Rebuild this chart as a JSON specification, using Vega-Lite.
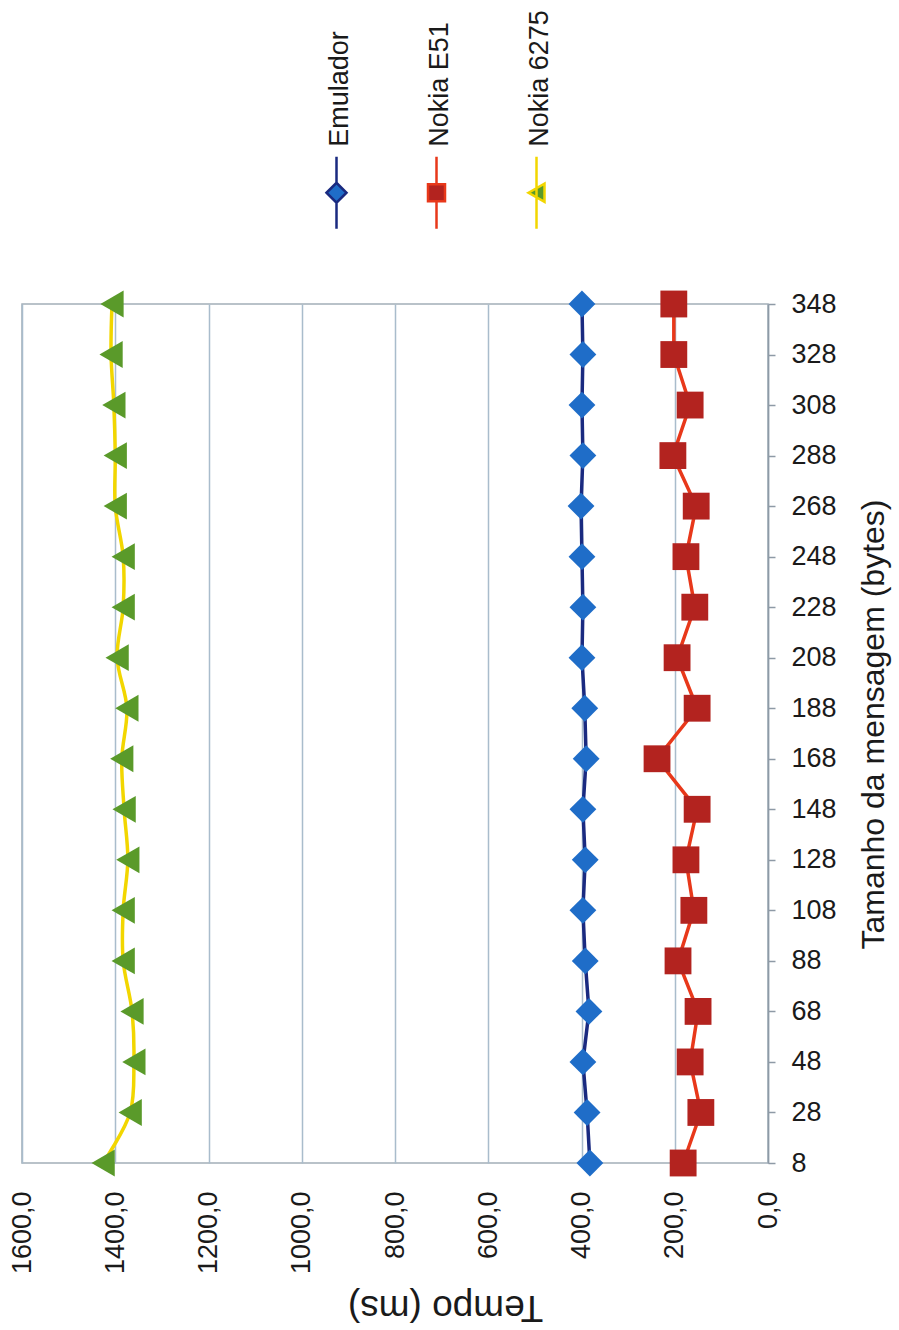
{
  "$schema": "https://vega.github.io/schema/vega-lite/v6.json",
  "width": 746,
  "height": 859,
  "autosize": {"type": "none"},
  "padding": {"left": 22, "top": 304, "right": 131, "bottom": 167},
  "background": "white",
  "config": {
    "font": "Liberation Sans",
    "view": {"stroke": "#a3aeb8", "strokeWidth": 1.5}
  },
  "data": {
    "values": [
      {"serie": "Emulador", "tamanho": 8, "tempo": 382},
      {"serie": "Emulador", "tamanho": 28, "tempo": 388},
      {"serie": "Emulador", "tamanho": 48, "tempo": 397},
      {"serie": "Emulador", "tamanho": 68, "tempo": 384},
      {"serie": "Emulador", "tamanho": 88, "tempo": 392},
      {"serie": "Emulador", "tamanho": 108, "tempo": 397},
      {"serie": "Emulador", "tamanho": 128, "tempo": 392},
      {"serie": "Emulador", "tamanho": 148, "tempo": 397},
      {"serie": "Emulador", "tamanho": 168, "tempo": 390},
      {"serie": "Emulador", "tamanho": 188, "tempo": 393},
      {"serie": "Emulador", "tamanho": 208, "tempo": 399},
      {"serie": "Emulador", "tamanho": 228, "tempo": 397},
      {"serie": "Emulador", "tamanho": 248, "tempo": 399},
      {"serie": "Emulador", "tamanho": 268, "tempo": 401},
      {"serie": "Emulador", "tamanho": 288, "tempo": 397},
      {"serie": "Emulador", "tamanho": 308, "tempo": 399},
      {"serie": "Emulador", "tamanho": 328, "tempo": 397},
      {"serie": "Emulador", "tamanho": 348, "tempo": 399},
      {"serie": "Nokia E51", "tamanho": 8, "tempo": 182},
      {"serie": "Nokia E51", "tamanho": 28, "tempo": 144},
      {"serie": "Nokia E51", "tamanho": 48, "tempo": 167},
      {"serie": "Nokia E51", "tamanho": 68, "tempo": 150},
      {"serie": "Nokia E51", "tamanho": 88, "tempo": 193},
      {"serie": "Nokia E51", "tamanho": 108, "tempo": 159},
      {"serie": "Nokia E51", "tamanho": 128, "tempo": 176},
      {"serie": "Nokia E51", "tamanho": 148, "tempo": 152},
      {"serie": "Nokia E51", "tamanho": 168, "tempo": 238},
      {"serie": "Nokia E51", "tamanho": 188, "tempo": 152},
      {"serie": "Nokia E51", "tamanho": 208, "tempo": 195},
      {"serie": "Nokia E51", "tamanho": 228, "tempo": 157},
      {"serie": "Nokia E51", "tamanho": 248, "tempo": 176},
      {"serie": "Nokia E51", "tamanho": 268, "tempo": 154},
      {"serie": "Nokia E51", "tamanho": 288, "tempo": 204},
      {"serie": "Nokia E51", "tamanho": 308, "tempo": 167},
      {"serie": "Nokia E51", "tamanho": 328, "tempo": 202},
      {"serie": "Nokia E51", "tamanho": 348, "tempo": 202},
      {"serie": "Nokia 6275", "tamanho": 8, "tempo": 1426},
      {"serie": "Nokia 6275", "tamanho": 28, "tempo": 1368},
      {"serie": "Nokia 6275", "tamanho": 48, "tempo": 1360},
      {"serie": "Nokia 6275", "tamanho": 68, "tempo": 1364},
      {"serie": "Nokia 6275", "tamanho": 88, "tempo": 1383},
      {"serie": "Nokia 6275", "tamanho": 108, "tempo": 1383},
      {"serie": "Nokia 6275", "tamanho": 128, "tempo": 1373},
      {"serie": "Nokia 6275", "tamanho": 148, "tempo": 1381},
      {"serie": "Nokia 6275", "tamanho": 168, "tempo": 1386},
      {"serie": "Nokia 6275", "tamanho": 188, "tempo": 1375},
      {"serie": "Nokia 6275", "tamanho": 208, "tempo": 1396},
      {"serie": "Nokia 6275", "tamanho": 228, "tempo": 1383},
      {"serie": "Nokia 6275", "tamanho": 248, "tempo": 1383},
      {"serie": "Nokia 6275", "tamanho": 268, "tempo": 1400},
      {"serie": "Nokia 6275", "tamanho": 288, "tempo": 1400},
      {"serie": "Nokia 6275", "tamanho": 308, "tempo": 1403},
      {"serie": "Nokia 6275", "tamanho": 328, "tempo": 1409},
      {"serie": "Nokia 6275", "tamanho": 348, "tempo": 1407}
    ]
  },
  "encoding": {
    "x": {
      "field": "tempo",
      "type": "quantitative",
      "scale": {"domain": [0, 1600], "reverse": true, "nice": false, "zero": true},
      "axis": {
        "orient": "bottom",
        "values": [0, 200, 400, 600, 800, 1000, 1200, 1400, 1600],
        "labelExpr": "replace(format(datum.value, '.1f'), '.', ',')",
        "labelAngle": -90,
        "labelAlign": "right",
        "labelBaseline": "middle",
        "labelFontSize": 27,
        "labelColor": "#1a1a1a",
        "labelPadding": 28,
        "labelFlush": false,
        "labelOverlap": false,
        "ticks": false,
        "domain": false,
        "grid": true,
        "gridColor": "#a9bccc",
        "gridWidth": 1.5,
        "title": "Tempo (ms)",
        "titleAngle": 180,
        "titleBaseline": "bottom",
        "titleAlign": "center",
        "titleX": 423,
        "titleFontSize": 37,
        "titleFontWeight": "normal",
        "titleColor": "#1a1a1a",
        "titlePadding": 14
      }
    },
    "y": {
      "field": "tamanho",
      "type": "quantitative",
      "scale": {"domain": [8, 348], "nice": false, "zero": false},
      "axis": {
        "orient": "right",
        "values": [8, 28, 48, 68, 88, 108, 128, 148, 168, 188, 208, 228, 248, 268, 288, 308, 328, 348],
        "labelFontSize": 27,
        "labelColor": "#1a1a1a",
        "labelPadding": 16,
        "labelFlush": false,
        "labelOverlap": false,
        "tickSize": 7,
        "tickColor": "#8e9aa6",
        "tickWidth": 1.5,
        "domainColor": "#8e9aa6",
        "domainWidth": 1.5,
        "grid": false,
        "title": "Tamanho da mensagem (bytes)",
        "titleAngle": -90,
        "titleBaseline": "top",
        "titleFontSize": 32,
        "titleFontWeight": "normal",
        "titleColor": "#1a1a1a",
        "titlePadding": 22,
        "titleY": 420
      }
    },
    "order": {"field": "tamanho", "type": "quantitative"}
  },
  "layer": [
    {
      "transform": [{"filter": "datum.serie !== 'Nokia 6275'"}],
      "mark": {"type": "line", "strokeWidth": 3.5},
      "encoding": {
        "stroke": {
          "field": "serie",
          "type": "nominal",
          "scale": {"domain": ["Nokia 6275", "Emulador", "Nokia E51"], "range": ["#f2d600", "#1a2a80", "#e8381a"]},
          "legend": null
        }
      }
    },
    {
      "transform": [{"filter": "datum.serie === 'Nokia 6275'"}],
      "mark": {"type": "line", "strokeWidth": 3.5, "interpolate": "catmull-rom"},
      "encoding": {
        "stroke": {
          "field": "serie",
          "type": "nominal",
          "scale": {"domain": ["Nokia 6275", "Emulador", "Nokia E51"], "range": ["#f2d600", "#1a2a80", "#e8381a"]},
          "legend": null
        }
      }
    },
    {
      "mark": {"type": "point", "filled": true, "opacity": 1, "size": 720},
      "encoding": {
        "fill": {
          "field": "serie",
          "type": "nominal",
          "scale": {"domain": ["Emulador", "Nokia E51", "Nokia 6275"], "range": ["#1f6dc8", "#b3231f", "#5a9a2a"]},
          "legend": {
            "orient": "none",
            "legendX": 301,
            "legendY": -125,
            "direction": "horizontal",
            "title": null,
            "padding": 0,
            "labelFontSize": 27,
            "labelColor": "#1a1a1a",
            "labelOffset": 0,
            "symbolSize": 400,
            "columnPadding": 69,
            "encoding": {
              "symbols": {
                "shape": {"value": {"expr": "datum.value === 'Emulador' ? 'M0,-3.6V-1M0,1V3.6M-1,0L0,-1L1,0L0,1Z' : datum.value === 'Nokia E51' ? 'M0,-3.6V-0.85M0,0.85V3.6M-0.85,-0.85H0.85V0.85H-0.85Z' : 'M0,-3.6V3.6M-0.8,0L0.8,-0.92L0.8,0.92Z'"}},
                "stroke": {"value": {"expr": "datum.value === 'Emulador' ? '#1a2a80' : datum.value === 'Nokia E51' ? '#e8381a' : '#f2d600'"}},
                "strokeWidth": {"value": 2.5}
              },
              "labels": {
                "angle": {"value": -90},
                "align": {"value": "left"},
                "baseline": {"value": "middle"},
                "dx": {"value": 46},
                "dy": {"value": -10}
              }
            }
          }
        },
        "shape": {
          "field": "serie",
          "type": "nominal",
          "scale": {"domain": ["Nokia E51", "Nokia 6275", "Emulador"], "range": ["square", "triangle-left", "diamond"]},
          "legend": null
        }
      }
    }
  ]
}
